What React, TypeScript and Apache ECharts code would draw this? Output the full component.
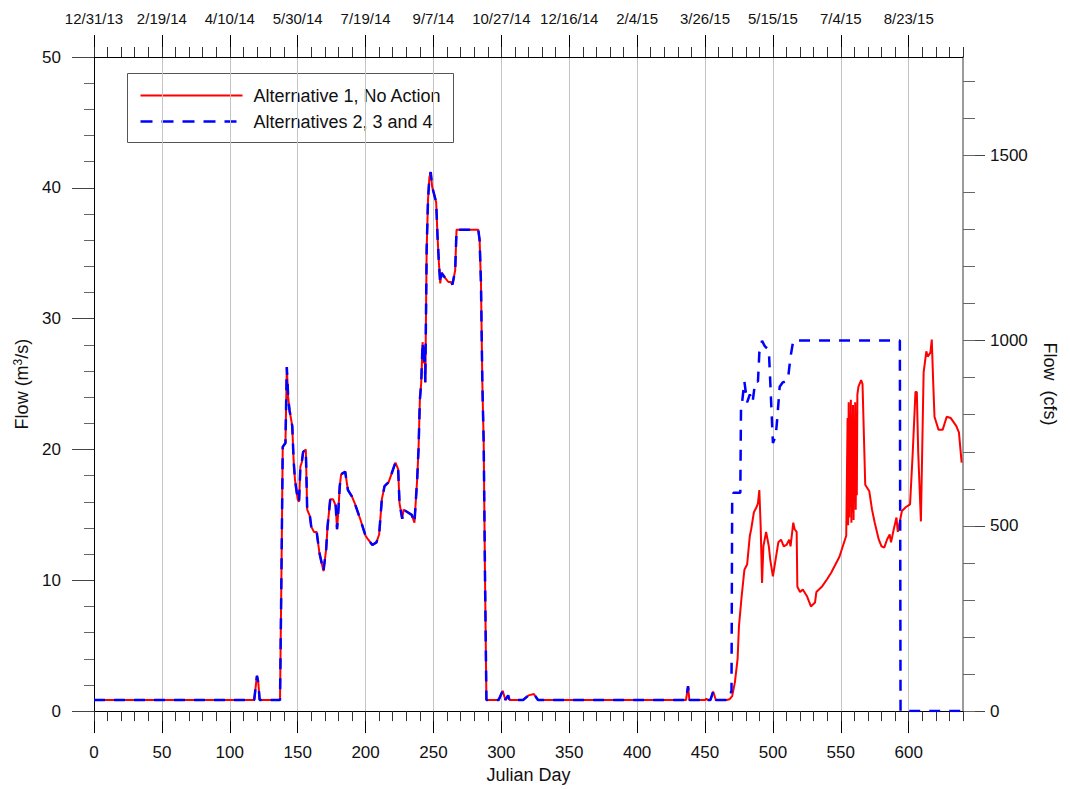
import React, { useEffect, useRef } from "react";
import * as echarts from "echarts";

// ---------- data ----------
// [Julian day, flow m3/s] common to all alternatives up to day 466
const sharedFlow: [number, number][] = [
  [0, 0.85], [118, 0.85], [119, 1.8], [120, 2.7], [121, 2.2], [122, 0.85], [137, 0.85],
  [138, 10], [139, 20.2], [141, 20.5], [142, 26.3], [143, 24], [144, 23], [146, 21.8],
  [147, 19.2], [148, 17.7], [150, 16.2], [151, 16.0], [152, 18.7], [153, 19], [154, 19.8],
  [156, 20.0], [157, 15.4], [159, 14.9], [160, 14.1], [162, 13.7], [164, 13.7], [166, 12.1],
  [169, 10.7], [171, 12.4], [172, 14.1], [174, 16.2], [176, 16.2], [178, 15.7], [179, 13.9],
  [180, 15.4], [181, 17.2], [182, 18.1], [185, 18.3], [187, 16.9], [190, 16.4], [192, 15.9],
  [196, 14.7], [200, 13.4], [202, 13.1], [205, 12.7], [208, 12.9], [210, 13.5], [212, 16.2],
  [214, 17.2], [217, 17.5], [219, 18.1], [222, 19.0], [224, 18.5], [225, 15.9], [227, 14.7],
  [228, 15.4], [231, 15.2], [234, 15.0], [236, 14.4], [238, 17.7], [239, 20.0], [240, 23.8],
  [241, 25.1], [242, 28.2], [243, 26.6], [243.5, 27.9], [244, 25.1], [245, 35.3], [246, 39.1],
  [247, 40.8], [248, 41.2], [249, 40.1], [250, 39.7], [252, 38.9], [253, 36.3], [254, 34.3],
  [255, 32.7], [256, 33.5], [258, 33.2], [261, 32.8], [263, 32.8], [264, 32.6], [266, 33.7],
  [267, 36.8], [283, 36.8], [284, 36.0], [285, 32.7], [286, 25.1], [287, 20.5], [288, 10],
  [289, 0.85], [298, 0.85], [301, 1.55], [303, 0.85], [305, 1.2], [306, 0.85], [316, 0.85],
  [320, 1.2], [324, 1.3], [327, 0.85], [436, 0.85], [437.5, 1.9], [438.5, 0.85], [450, 0.85],
  [451, 0.95], [452, 0.85], [454, 0.85], [456, 1.5], [458, 0.85], [466, 0.85],
];

// Alternative 1 (No Action) after day 466
const alt1Tail: [number, number][] = [
  [468, 0.9], [470, 1.15], [472, 2.2], [474, 4.0], [475, 6.5], [477, 8.8], [479, 10.8],
  [481, 11.2], [483, 13.4], [484, 13.9], [486, 15.2], [488, 15.6], [489, 15.9], [490, 16.9],
  [491, 14.1], [492, 9.8], [493, 12.6], [495, 13.7], [497, 12.6], [498, 11.6], [500, 10.3],
  [502, 11.6], [504, 12.9], [506, 13.1], [508, 12.6], [510, 12.7], [512, 13.1], [513, 12.6],
  [515, 14.4], [516, 13.9], [517.5, 13.7], [518, 9.5], [520, 9.1], [522, 9.3], [525, 8.8],
  [528, 8.0], [531, 8.3], [532, 9.1], [536, 9.5], [540, 10.1], [543, 10.6], [547, 11.4],
  [549, 11.8], [554, 13.4], [555, 22.4], [555.4, 14.2], [555.8, 23.6], [556.2, 14.8],
  [556.6, 22.8], [557, 15.6], [557.4, 23.8], [557.8, 14.4], [558.2, 22.6], [558.6, 15.2],
  [559, 23.4], [559.4, 14.6], [559.8, 22], [560.2, 16], [560.6, 23.6], [561, 15.4],
  [561.4, 22.8], [561.8, 16.5], [562.2, 24.2], [563, 24.8], [565, 25.3], [566, 25.0],
  [568, 17.3], [571, 16.8], [573, 15.4], [575, 14.4], [578, 13.1], [580, 12.6], [582, 12.5],
  [584, 13.1], [586, 13.5], [587, 12.9], [589, 13.9], [591, 14.8], [592, 13.7], [595, 15.3],
  [598, 15.6], [601, 15.8], [603, 19.8], [605, 24.4], [606, 24.4], [607, 19.8], [609, 14.5],
  [610, 20.2], [611, 25.9], [613, 27.5], [614, 27.1], [616, 27.4], [617, 28.4], [618, 25.3],
  [619, 22.5], [622, 21.5], [625, 21.5], [628, 22.5], [631, 22.4], [635, 21.8], [637, 21.3],
  [639, 19.0],
];

// Alternatives 2, 3 and 4 after day 466
const alt234Tail: [number, number][] = [
  [468, 1.45], [469.5, 1.45], [470, 16.0], [471, 16.7], [476, 16.7], [476.5, 23.2],
  [477, 23.3], [479, 25.2], [481, 23.6], [483, 24.2], [485, 23.6], [487, 25.2], [489, 25.2],
  [490, 27.4], [492, 28.3], [494, 27.9], [497, 27.6], [498, 25.3], [500, 20.5], [502, 21],
  [503, 22.1], [505, 24.8], [507, 25.1], [511, 25.3], [513, 27.1], [515, 28.32],
  [593.5, 28.32], [594, 0], [640, 0],
];

const seriesNames = ["Alternative 1, No Action", "Alternatives 2, 3 and 4"];
const dayTicks = [0, 50, 100, 150, 200, 250, 300, 350, 400, 450, 500, 550, 600];
const dateLabels = [
  "12/31/13", "2/19/14", "4/10/14", "5/30/14", "7/19/14", "9/7/14", "10/27/14",
  "12/16/14", "2/4/15", "3/26/15", "5/15/15", "7/4/15", "8/23/15",
];
const cfsTicks = [0, 500, 1000, 1500];
const CFS_PER_CMS = 35.3147;
const DAY_MAX = 640;
const FLOW_MAX = 50;

const RED = "#ff0000";
const BLUE = "#0000ff";
const BLUE_DASH = [11, 9];
const FONT = 'Arial, "Liberation Sans", Helvetica, sans-serif';

export default function App() {
  const ref = useRef<HTMLDivElement>(null);

  useEffect(() => {
    if (!ref.current) return;
    const chart = echarts.init(ref.current, null, { renderer: "svg" });

    const cfsMinor: number[] = [];
    for (let v = 0; v <= FLOW_MAX * CFS_PER_CMS; v += 100) cfsMinor.push(v);

    const baseX = { type: "value", min: 0, max: DAY_MAX, gridIndex: 0 };

    const option: any = {
      animation: false,
      textStyle: { fontFamily: FONT },
      grid: { left: 94, right: 107, top: 57, bottom: 77, containLabel: false },
      graphic: [
        {
          type: "group",
          left: 127,
          top: 73,
          z: 100,
          children: [
            {
              type: "rect",
              shape: { x: 0, y: 0, width: 326, height: 69 },
              style: { fill: "#fff", stroke: "#555", lineWidth: 1 },
            },
            {
              type: "line",
              shape: { x1: 13, y1: 22, x2: 115, y2: 22 },
              style: { stroke: RED, lineWidth: 2 },
            },
            {
              type: "line",
              shape: { x1: 13, y1: 48, x2: 115, y2: 48 },
              style: { stroke: BLUE, lineWidth: 2.5, lineDash: [12, 9] },
            },
            {
              type: "text",
              x: 126,
              y: 22,
              style: {
                text: seriesNames[0],
                fontSize: 18,
                fontFamily: FONT,
                fill: "#111",
                verticalAlign: "middle",
              },
            },
            {
              type: "text",
              x: 126,
              y: 48,
              style: {
                text: seriesNames[1],
                fontSize: 18,
                fontFamily: FONT,
                fill: "#111",
                verticalAlign: "middle",
              },
            },
          ],
        },
      ],
      xAxis: [
        {
          ...baseX,
          position: "bottom",
          interval: 50,
          name: "Julian Day",
          nameLocation: "middle",
          nameGap: 53,
          nameTextStyle: { fontSize: 18, color: "#111", fontFamily: FONT },
          axisLine: { onZero: false, lineStyle: { color: "#000", width: 1 } },
          axisTick: { show: true, length: 22, customValues: dayTicks, lineStyle: { color: "#000" } },
          axisLabel: {
            customValues: dayTicks,
            margin: 33,
            fontSize: 17,
            color: "#111",
            fontFamily: FONT,
            formatter: (v: number) => (dayTicks.indexOf(v) >= 0 ? String(v) : ""),
          },
          splitLine: { show: true, lineStyle: { color: "#c4c4c4", width: 1 } },
        },
        {
          ...baseX,
          position: "bottom",
          interval: 10,
          axisLine: { show: false, onZero: false },
          axisTick: { show: true, length: 10, lineStyle: { color: "#333" } },
          axisLabel: { show: false },
          splitLine: { show: false },
        },
        {
          ...baseX,
          position: "top",
          interval: 50,
          axisLine: { onZero: false, lineStyle: { color: "#000", width: 1 } },
          axisTick: { show: true, length: 22, customValues: dayTicks, lineStyle: { color: "#000" } },
          axisLabel: {
            customValues: dayTicks,
            margin: 31,
            fontSize: 15,
            color: "#111",
            fontFamily: FONT,
            formatter: (v: number) => {
              const i = dayTicks.indexOf(v);
              return i >= 0 ? dateLabels[i] : "";
            },
          },
          splitLine: { show: false },
        },
        {
          ...baseX,
          position: "top",
          interval: 10,
          axisLine: { show: false, onZero: false },
          axisTick: { show: true, length: 10, lineStyle: { color: "#333" } },
          axisLabel: { show: false },
          splitLine: { show: false },
        },
      ],
      yAxis: [
        {
          type: "value",
          position: "left",
          min: 0,
          max: FLOW_MAX,
          interval: 10,
          name: "{a|Flow (m}{s|3}{a|/s)}",
          nameLocation: "middle",
          nameGap: 56,
          nameTextStyle: {
            color: "#111",
            rich: {
              a: { fontSize: 18, fontFamily: FONT, color: "#111" },
              s: { fontSize: 12, fontFamily: FONT, color: "#111", padding: [0, 0, 8, 0] },
            },
          },
          axisLine: { show: true, onZero: false, lineStyle: { color: "#000", width: 1 } },
          axisTick: { show: true, length: 22, lineStyle: { color: "#444" } },
          minorTick: { show: true, splitNumber: 5, length: 10, lineStyle: { color: "#666" } },
          axisLabel: { margin: 33, fontSize: 17, color: "#111", fontFamily: FONT },
          splitLine: { show: false },
        },
        {
          type: "value",
          position: "right",
          min: 0,
          max: FLOW_MAX * CFS_PER_CMS,
          interval: 500,
          name: "Flow  (cfs)",
          nameLocation: "middle",
          nameGap: 78,
          nameRotate: -90,
          nameTextStyle: { fontSize: 18, color: "#111", fontFamily: FONT },
          axisLine: { show: true, onZero: false, lineStyle: { color: "#7a7a7a", width: 1.5 } },
          axisTick: { show: true, length: 22, customValues: cfsTicks, lineStyle: { color: "#444" } },
          axisLabel: {
            customValues: cfsTicks,
            margin: 27,
            fontSize: 17,
            color: "#111",
            fontFamily: FONT,
            formatter: (v: number) => (cfsTicks.indexOf(v) >= 0 ? String(v) : ""),
          },
          splitLine: { show: false },
        },
        {
          type: "value",
          position: "right",
          min: 0,
          max: FLOW_MAX * CFS_PER_CMS,
          interval: 100,
          axisLine: { show: false, onZero: false },
          axisTick: { show: true, length: 12, customValues: cfsMinor, lineStyle: { color: "#666" } },
          axisLabel: { show: false },
          splitLine: { show: false },
        },
      ],
      series: [
        {
          name: seriesNames[0],
          type: "line",
          xAxisIndex: 0,
          yAxisIndex: 0,
          showSymbol: false,
          symbol: "none",
          lineStyle: { color: RED, width: 2 },
          itemStyle: { color: RED },
          data: [...sharedFlow, ...alt1Tail],
          z: 3,
        },
        {
          name: seriesNames[1],
          type: "line",
          xAxisIndex: 0,
          yAxisIndex: 0,
          showSymbol: false,
          symbol: "none",
          lineStyle: { color: BLUE, width: 2.5, type: BLUE_DASH },
          itemStyle: { color: BLUE },
          data: [...sharedFlow, ...alt234Tail],
          z: 4,
        },
      ],
    };

    chart.setOption(option);
    return () => chart.dispose();
  }, []);

  return (
    <div
      ref={ref}
      style={{ position: "absolute", left: 0, top: 0, width: 1070, height: 789, background: "#fff" }}
    />
  );
}
